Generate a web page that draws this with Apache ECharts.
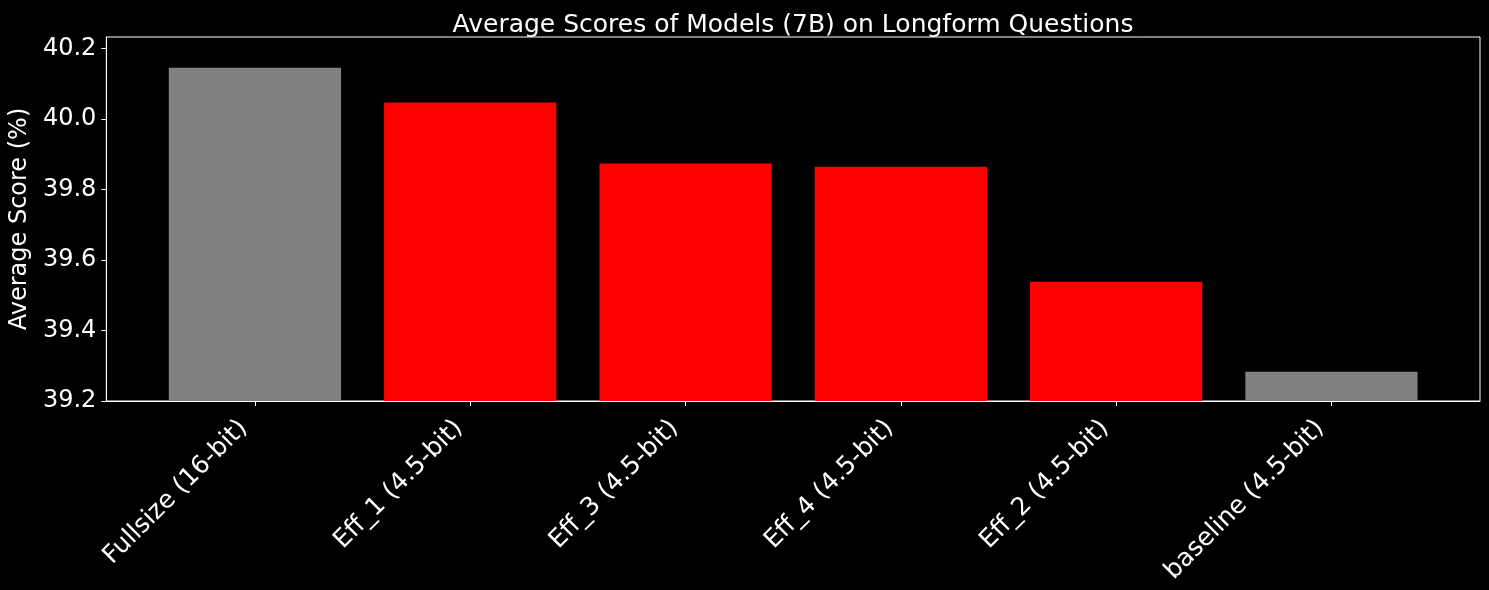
<!DOCTYPE html>
<html>
<head>
<meta charset="utf-8">
<script src="https://cdn.jsdelivr.net/npm/echarts@6/dist/echarts.min.js"></script>
<style>
html,body{margin:0;padding:0;background:#000;}
#c{width:1489px;height:590px;}
</style>
</head>
<body>
<div id="c"></div>
<script>
const categories = ["Fullsize (16-bit)", "Eff_1 (4.5-bit)", "Eff_3 (4.5-bit)", "Eff_4 (4.5-bit)", "Eff_2 (4.5-bit)", "baseline (4.5-bit)"];
const scores = [40.145, 40.046, 39.873, 39.864, 39.538, 39.283];
const barColors = ["#808080", "#ff0000", "#ff0000", "#ff0000", "#ff0000", "#808080"];
const yTicks = [39.2, 39.4, 39.6, 39.8, 40.0, 40.2];

const FONT = "DejaVu Sans";
const chart = echarts.init(document.getElementById('c'), null, {renderer: 'canvas'});
const idx = categories.map((_, i) => i);
chart.setOption({
  backgroundColor: '#000',
  animation: false,
  title: {
    text: 'Average Scores of Models (7B) on Longform Questions',
    left: 788, top: 20, textAlign: 'center', textVerticalAlign: 'middle',
    textStyle: {color: '#fff', fontFamily: FONT, fontSize: 25, fontWeight: 'normal'}
  },
  grid: {left: 105, right: 9, top: 37, bottom: 189, show: true, borderColor: '#fff', borderWidth: 1, backgroundColor: 'transparent', containLabel: false},
  xAxis: {
    type: 'value', min: -0.69, max: 5.69,
    splitLine: {show: false},
    axisLine: {show: true, onZero: false, lineStyle: {color: '#fff', width: 1}},
    axisTick: {show: true, customValues: idx, length: 5, lineStyle: {color: '#fff'}},
    axisLabel: {
      customValues: idx, rotate: 45, margin: 12, padding: [0, 16, 0, 0], color: '#fff', fontFamily: FONT, fontSize: 25,
      formatter: v => categories[Math.round(v)]
    }
  },
  yAxis: {
    type: 'value', min: yTicks[0], max: 40.232, interval: 0.2,
    name: 'Average Score (%)', nameLocation: 'middle', nameGap: 70,
    nameTextStyle: {color: '#fff', fontFamily: FONT, fontSize: 24},
    splitLine: {show: false},
    axisLine: {show: true, onZero: false, lineStyle: {color: '#fff', width: 1}},
    axisTick: {show: true, length: 5, lineStyle: {color: '#fff'}},
    axisLabel: {
      color: '#fff', fontFamily: FONT, fontSize: 24, margin: 10, showMaxLabel: false,
      formatter: v => v.toFixed(1)
    }
  },
  series: [{
    type: 'bar',
    barWidth: '80%',
    data: scores.map((v, i) => ({value: [i, v], itemStyle: {color: barColors[i]}}))
  }]
});
</script>
</body>
</html>
